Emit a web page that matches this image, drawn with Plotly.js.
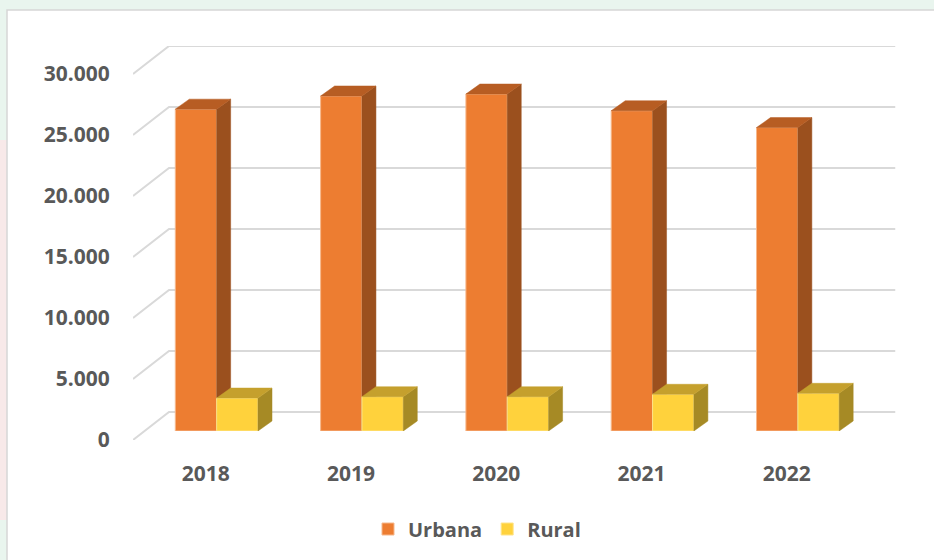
<!DOCTYPE html>
<html>
<head>
<meta charset="utf-8">
<script src="https://cdn.plot.ly/plotly-3.0.1.min.js"></script>
<style>
  html, body { margin: 0; padding: 0; background: #e9f5ee; }
  #chart { width: 934px; height: 560px; }
</style>
</head>
<body>
<div id="chart"></div>
<script>
// --- data ---
const categories = ['2018', '2019', '2020', '2021', '2022'];
const urbana = [26380, 27460, 27620, 26250, 24870];
const rural = [2700, 2810, 2810, 3010, 3090];
const yTicks = [0, 5000, 10000, 15000, 20000, 25000, 30000];
const yMax = 30000;

// --- fake 3D geometry (pixels) ---
const W = 934, H = 560;
const pxCat = 145.3;           // one category slot
const unitPx = 61 / 5000;      // pixels per value unit
const frontLeft = 133;         // left edge of front plane
const frontBase = 440;         // y of zero on front plane
const depth = { x: 36, y: 28 };    // front plane -> back wall
const barShift = { x: 11, y: 9 };  // front plane -> bar faces
const barDepth = { x: 14, y: 10 }; // bar thickness
const barW = 0.2845;           // bar width in category units

const n = categories.length;
const idx = categories.map((c, i) => i);
const depthX = depth.x / pxCat, depthY = depth.y / unitPx;
const bdX = barDepth.x / pxCat, bdY = barDepth.y / unitPx;

// gridlines: diagonal on the left + line along the back wall
const grid = { x: [], y: [] };
yTicks.forEach(v => {
    grid.x.push(-0.5, -0.5 + depthX, n - 0.5 + depthX, null);
    grid.y.push(v, v + depthY, v + depthY, null);
});

function faces(vals, offset) {
    const top = { x: [], y: [] }, side = { x: [], y: [] };
    vals.forEach((v, i) => {
        const xl = i + offset, xr = xl + barW;
        top.x.push(xl, xr, xr + bdX, xl + bdX, xl, null);
        top.y.push(v, v, v + bdY, v + bdY, v, null);
        side.x.push(xr, xr + bdX, xr + bdX, xr, xr, null);
        side.y.push(0, bdY, v + bdY, v, 0, null);
    });
    return { top, side };
}

const series = [
    { name: 'Urbana', vals: urbana, offset: -barW, front: '#ED7D31', top: '#B75D23', side: '#9B501E', edge: '#F6B88C', xa: 'x2', ya: 'y2' },
    { name: 'Rural', vals: rural, offset: 0, front: '#FFD23C', top: '#C5A02D', side: '#A68A25', edge: '#FFE48A', xa: 'x3', ya: 'y3' },
];

const data = [{
    x: grid.x, y: grid.y, type: 'scatter', mode: 'lines',
    line: { color: '#d9d9d9', width: 2 }, hoverinfo: 'skip', showlegend: false,
}];

series.forEach(s => {
    const f = faces(s.vals, s.offset);
    data.push({
        x: idx, y: s.vals, type: 'bar', name: s.name, xaxis: s.xa, yaxis: s.ya,
        width: barW, offset: s.offset,
        marker: { color: s.front, line: { color: s.edge, width: 1 } },
        hoverinfo: 'skip',
    });
    data.push({
        x: f.side.x, y: f.side.y, type: 'scatter', mode: 'lines', fill: 'toself',
        fillcolor: s.side, line: { color: s.side, width: 0.5 },
        xaxis: s.xa, yaxis: s.ya, hoverinfo: 'skip', showlegend: false,
    });
    data.push({
        x: f.top.x, y: f.top.y, type: 'scatter', mode: 'lines', fill: 'toself',
        fillcolor: s.top, line: { color: s.top, width: 0.5 },
        xaxis: s.xa, yaxis: s.ya, hoverinfo: 'skip', showlegend: false,
    });
});

const tickFont = { family: 'Open Sans, sans-serif', size: 21, color: '#595959', weight: 700 };
const barDomX = [(frontLeft + barShift.x) / W, (frontLeft + barShift.x + n * pxCat) / W];
const barDomY = [(H - frontBase + barShift.y) / H, (H - frontBase + barShift.y + yMax * unitPx) / H];
const hidden = { visible: false, showgrid: false, zeroline: false, fixedrange: true };

const layout = {
    width: W, height: H,
    margin: { l: 0, r: 0, t: 0, b: 0, autoexpand: false },
    paper_bgcolor: '#e9f5ee',
    plot_bgcolor: 'rgba(0,0,0,0)',
    separators: ',.',
    barmode: 'overlay',
    showlegend: true,
    xaxis: {
        domain: [frontLeft / W, (frontLeft + n * pxCat + depth.x) / W],
        range: [-0.5, n - 0.5 + depthX],
        tickvals: idx, ticktext: categories,
        ticks: 'outside', ticklen: 15, tickcolor: 'rgba(0,0,0,0)',
        showgrid: false, zeroline: false, showline: false,
        tickfont: tickFont, anchor: 'y', fixedrange: true,
    },
    yaxis: {
        domain: [(H - frontBase) / H, (H - frontBase + yMax * unitPx + depth.y) / H],
        range: [0, yMax + depthY],
        tickvals: yTicks, tickformat: ',d',
        ticks: 'outside', ticklen: 18, tickcolor: 'rgba(0,0,0,0)',
        showgrid: false, zeroline: false, showline: false,
        tickfont: tickFont, anchor: 'x', fixedrange: true,
    },
    xaxis2: Object.assign({ domain: barDomX, range: [-0.5, n - 0.5], anchor: 'y2' }, hidden),
    yaxis2: Object.assign({ domain: barDomY, range: [0, yMax], anchor: 'x2' }, hidden),
    xaxis3: Object.assign({ range: [-0.5, n - 0.5], anchor: 'y3', overlaying: 'x2' }, hidden),
    yaxis3: Object.assign({ range: [0, yMax], anchor: 'x3', overlaying: 'y2' }, hidden),
    legend: {
        orientation: 'h', x: 0.5 + 10 / W, xanchor: 'center', y: (H - 529) / H, yanchor: 'middle',
        font: { family: 'Open Sans, sans-serif', size: 20, color: '#595959', weight: 700 },
        bgcolor: 'rgba(0,0,0,0)', traceorder: 'normal', itemwidth: 30,
    },
    shapes: [
        { type: 'rect', xref: 'paper', yref: 'paper', x0: 0, x1: 7 / W, y0: 40 / H, y1: 420 / H,
          fillcolor: '#f8e9e9', line: { width: 0 }, layer: 'below' },
        { type: 'rect', xref: 'paper', yref: 'paper', x0: 7 / W, x1: 1.01, y0: -0.01, y1: (H - 10) / H,
          fillcolor: '#ffffff', line: { color: '#d6d6d6', width: 1.5 }, layer: 'below' },
    ],
};

Plotly.newPlot('chart', data, layout, { displayModeBar: false, staticPlot: true });
</script>
</body>
</html>
